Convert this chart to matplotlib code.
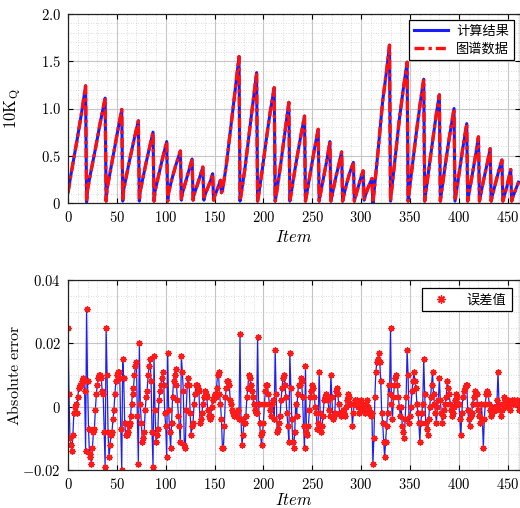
import matplotlib
matplotlib.use('Agg')
import matplotlib.pyplot as plt
from matplotlib.ticker import MultipleLocator
from matplotlib.font_manager import FontProperties

plt.rcParams['mathtext.fontset'] = 'cm'
plt.rcParams['font.family'] = ['DejaVu Serif']

# ---------------- top chart data (10K_Q vs item), points read per arc ----------------
kq_x = [0, 3, 9, 14, 18,
        19, 20, 23, 28, 33, 38,
        39, 40, 43, 47, 51, 55,
        56, 57, 60, 64, 68, 72,
        73, 74, 77, 80, 84, 87,
        88, 89, 92, 96, 101,
        102, 103, 106, 110, 115,
        116, 117, 120, 123, 127,
        128, 129, 132, 135, 138,
        139, 140, 143, 146, 148,
        149, 150, 153, 156,
        157, 158, 162, 166, 170, 175,
        176, 177, 181, 185, 189, 193,
        194, 195, 199, 203, 207, 211,
        212, 213, 217, 221, 226,
        227, 228, 232, 237, 242,
        243, 244, 248, 252, 256,
        257, 258, 262, 265, 268,
        269, 270, 274, 277, 280,
        281, 282, 285, 288, 292,
        293, 294, 297, 300, 302,
        303, 304, 307, 311,
        312, 313, 317, 322, 326, 329,
        330, 331, 335, 339, 343, 347,
        348, 349, 353, 357, 361, 364,
        365, 366, 370, 374, 377, 380,
        381, 382, 386, 390, 393, 395,
        396, 397, 400, 404, 408,
        409, 410, 413, 417, 420,
        421, 422, 425, 429, 432,
        433, 434, 437, 441, 444,
        445, 446, 449, 453,
        454, 455, 458, 461]
kq_y = [0.11, 0.30, 0.65, 0.96, 1.24,
        0.01, 0.14, 0.31, 0.57, 0.85, 1.11,
        0.02, 0.15, 0.32, 0.55, 0.77, 0.99,
        0.02, 0.14, 0.30, 0.50, 0.69, 0.87,
        0.02, 0.13, 0.28, 0.43, 0.61, 0.75,
        0.02, 0.12, 0.26, 0.44, 0.65,
        0.02, 0.11, 0.24, 0.39, 0.55,
        0.03, 0.10, 0.21, 0.32, 0.465,
        0.03, 0.09, 0.18, 0.28, 0.38,
        0.03, 0.08, 0.16, 0.24, 0.31,
        0.03, 0.07, 0.15, 0.24,
        0.11, 0.13, 0.40, 0.75, 1.10, 1.55,
        0.02, 0.08, 0.36, 0.70, 1.04, 1.38,
        0.02, 0.08, 0.37, 0.68, 0.97, 1.22,
        0.02, 0.08, 0.36, 0.67, 1.065,
        0.02, 0.08, 0.34, 0.64, 0.92,
        0.02, 0.08, 0.32, 0.56, 0.78,
        0.02, 0.08, 0.30, 0.46, 0.65,
        0.02, 0.07, 0.27, 0.40, 0.54,
        0.02, 0.07, 0.20, 0.31, 0.43,
        0.02, 0.06, 0.17, 0.28, 0.34,
        0.03, 0.07, 0.16, 0.26,
        0.00, 0.10, 0.52, 1.08, 1.40, 1.67,
        0.02, 0.12, 0.50, 0.88, 1.20, 1.49,
        0.02, 0.11, 0.45, 0.79, 1.10, 1.31,
        0.02, 0.10, 0.42, 0.72, 0.95, 1.145,
        0.02, 0.10, 0.40, 0.68, 0.87, 1.00,
        0.02, 0.09, 0.30, 0.58, 0.84,
        0.02, 0.08, 0.26, 0.50, 0.70,
        0.02, 0.07, 0.23, 0.42, 0.575,
        0.02, 0.07, 0.19, 0.35, 0.455,
        0.02, 0.06, 0.17, 0.355,
        0.02, 0.06, 0.14, 0.22]

# ---------------- bottom chart data: absolute error (x 0.001) for items 0..461 ----------------
err_milli = [
    25, 4, -10, -12, -14, -9, -2, 0, 1, -2,
    3, 6, 7, 7, 8, 9, 8, 5, -14, 31,
    8, -7, -15, -16, -18, -13, -8, -7, -1, 4,
    7, 9, 10, 10, 9, 5, 4, -8, -19, 25,
    10, -8, -16, -12, -9, -8, -4, -1, 4, 8,
    10, 11, 11, 9, -7, -20, 15, 9, -5, -9,
    -9, -8, -6, -5, -3, 1, 4, 6, 10, 13,
    14, -3, -18, 20, 1, -5, -11, -10, -8, -1,
    3, 5, 10, 13, 15, 8, -8, -19, 16, -1,
    -11, -9, -7, 2, 5, 7, 9, 11, 7, -2,
    -6, -16, 17, -1, -8, -13, -5, 3, 8, 10,
    12, 7, 2, -3, -6, -11, 16, 11, 5, -12,
    -13, -1, 7, 9, 7, -2, -9, -6, -5, 1,
    4, 7, 7, 6, 5, -5, -4, -2, 1, 3,
    5, 4, 3, -1, -3, -4, -3, 0, 2, 3,
    4, 3, 6, 10, 11, 4, 1, -4, -13, -13,
    -6, 3, 6, 8, 8, 7, 2, 1, -1, -2,
    -3, -2, -3, -2, -1, -4, 23, -4, -12, -9,
    -5, -5, -3, 3, 6, 10, 9, 7, 5, 3,
    1, -1, -2, -2, 22, 1, -5, -9, -12, -8,
    -5, 1, 5, 7, 7, 4, 1, -1, -3, 1,
    2, -4, 18, 4, -8, -7, -5, -3, 2, 6,
    9, 10, 7, 3, -2, -6, -11, 17, 6, -4,
    -11, -13, -8, 1, -3, 4, 7, 7, 9, 8,
    3, -6, -13, 13, -8, -9, -6, -1, 3, 5,
    7, 6, 3, 0, -2, -7, -5, 11, -2, -8,
    -6, -3, 2, 3, 4, 3, 2, -1, -3, 10,
    3, -4, -3, -2, 5, 6, 4, 1, -2, -3,
    -2, -1, -2, -3, 0, 2, 3, 4, 3, 1,
    1, -6, -2, 1, 2, 1, 2, 0, -2, 1,
    2, 1, -1, -1, -2, 1, 2, 0, -1, -2,
    -3, -2, -18, -10, 3, 11, 14, 15, 17, 14,
    8, -2, -5, -11, -16, -11, -6, -2, 7, 4,
    25, 1, -4, 3, 7, 9, 10, 7, 3, 0,
    -3, 0, -6, -8, -10, -4, 3, 18, 10, -5,
    -3, 0, 5, 8, 11, 8, 6, 1, -2, -5,
    -11, -5, -2, 1, 15, 4, -5, -7, -9, -4,
    0, 3, 7, 11, 4, 1, -2, -5, 0, 2,
    9, 2, -2, -5, -3, -1, 1, 3, 8, 6,
    4, 1, -1, -3, -2, 0, 2, 4, 3, 1,
    1, -4, -9, -2, 3, 5, 6, 7, 7, -1,
    -4, -6, -3, -2, 1, 3, 5, 4, 4, 1,
    -1, -3, -5, 1, -4, -13, -4, 1, 4, 5,
    4, 1, -1, -3, -2, -1, 0, 0, -1, 2,
    11, 1, -1, -3, -1, 1, 3, 2, 1, 0,
    2, 1, -1, 1, 2, 1, 2, 1, 1, 2,
    1, -1]
err_x = list(range(len(err_milli)))
err_y = [v * 0.001 for v in err_milli]

# ---------------- ticks and labels ----------------
x_ticks = [0, 50, 100, 150, 200, 250, 300, 350, 400, 450]
x_ticklabels = ['0', '50', '100', '150', '200', '250', '300', '350', '400', '450']
top_yticks = [0, 0.5, 1.0, 1.5, 2.0]
top_yticklabels = ['0', '0.5', '1.0', '1.5', '2.0']
bot_yticks = [-0.02, 0, 0.02, 0.04]
bot_yticklabels = ['-0.02', '0', '0.02', '0.04']
legend_top = ['计算结果', '图谱数据']
legend_bot = '误差值'

cjk = FontProperties(family=['Noto Sans CJK SC'], size=9.5)

W, H = 520, 508
fig = plt.figure(figsize=(W / 100, H / 100), dpi=100)
ax1 = fig.add_axes([68 / W, 1 - 203 / H, (519.5 - 68) / W, (203 - 14) / H])
ax2 = fig.add_axes([68 / W, 1 - 470 / H, (519.5 - 68) / W, (470 - 280) / H])


def style(ax, yticks, ylabels, yminor):
    ax.set_xlim(0, 462)
    ax.set_xticks(x_ticks)
    ax.set_xticklabels(['$' + t + '$' for t in x_ticklabels], fontsize=10.5)
    ax.set_yticks(yticks)
    ax.set_yticklabels(['$' + t + '$' for t in ylabels], fontsize=10.5)
    ax.xaxis.set_minor_locator(MultipleLocator(10))
    ax.yaxis.set_minor_locator(MultipleLocator(yminor))
    ax.grid(which='major', color='#c6c6c6', lw=0.8, ls='-')
    ax.grid(which='minor', color='#cfcfcf', lw=0.6, ls=(0, (1, 2)))
    ax.set_axisbelow(True)
    ax.tick_params(which='major', direction='in', top=True, right=True,
                   length=3.5, width=0.8, pad=5)
    ax.tick_params(which='minor', length=0)
    for s in ax.spines.values():
        s.set_linewidth(0.9)
        s.set_color('#222222')
    ax.set_xlabel('$Item$', fontsize=12)
    ax.yaxis.set_label_coords(-0.10, 0.5)


# top chart
ax1.plot(kq_x, kq_y, color='#1a1aff', lw=2.2, label=legend_top[0])
ax1.plot(kq_x, kq_y, color='#ff1010', lw=2.4, ls=(0, (3, 1.2, 1, 1.2)),
         label=legend_top[1])
ax1.set_ylim(0, 2.0)
style(ax1, top_yticks, top_yticklabels, 0.1)
ax1.set_ylabel(r'$10\mathrm{K}_{\mathrm{Q}}$', fontsize=12)
ax1.xaxis.set_label_coords(0.5, -0.135)
leg1 = ax1.legend(loc='upper right', prop=cjk, fancybox=False, framealpha=1,
                  edgecolor='black', handlelength=2.6, borderaxespad=0.45,
                  borderpad=0.35, labelspacing=0.35, handletextpad=0.6)
leg1.get_frame().set_linewidth(0.9)

# bottom chart
ax2.plot(err_x, err_y, color='#2020ee', lw=0.9)
ax2.plot(err_x, err_y, ls='none', marker=(8, 2, 0), markersize=4.5,
         mec='#ff1a1a', mew=1.0, label=legend_bot)
ax2.set_ylim(-0.02, 0.04)
style(ax2, bot_yticks, bot_yticklabels, 0.005)
ax2.set_ylabel(r'$\mathrm{Absolute\ error}$', fontsize=11.5)
ax2.xaxis.set_label_coords(0.5, -0.115)
leg2 = ax2.legend(loc='upper right', prop=cjk, fancybox=False, framealpha=1,
                  edgecolor='black', handlelength=2.2, borderaxespad=0.6,
                  borderpad=0.4, handletextpad=0.8, markerscale=1.3)
leg2.get_frame().set_linewidth(0.9)

fig.savefig('out.png', dpi=100)
